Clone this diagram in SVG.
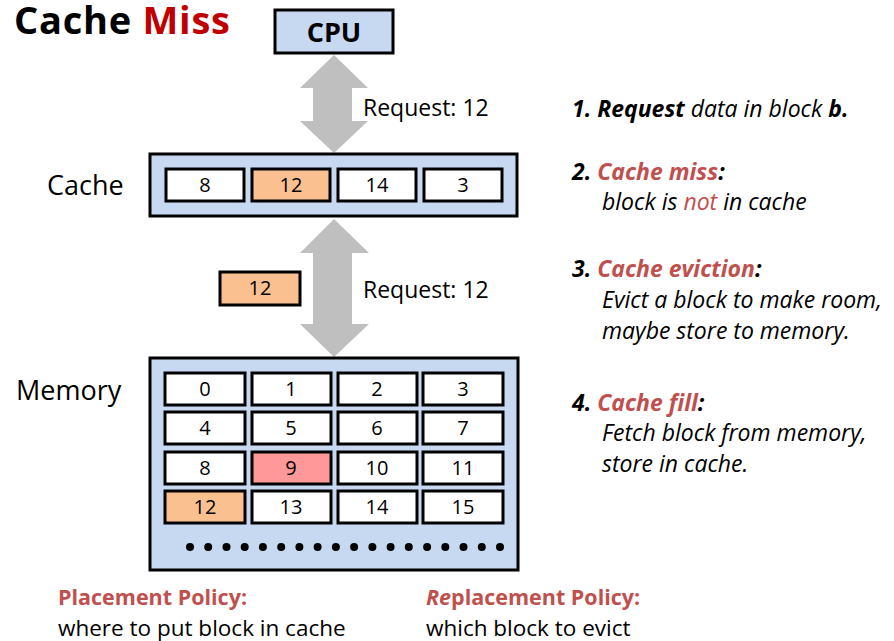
<svg xmlns="http://www.w3.org/2000/svg" width="894" height="641" viewBox="0 0 894 641">
  <style>
    text { font-family: "Open Sans", Lato, "Liberation Sans", sans-serif; fill: #000; }
    .panel { fill: #c6d9f1; stroke: #000; stroke-width: 3; }
    .cell { fill: #fff; stroke: #000; stroke-width: 3; }
    .hit { fill: #fac090; }
    .victim { fill: #ff9999; }
    .num { font-size: 20px; text-anchor: middle; }
    .lbl { font-size: 27px; }
    .step { font-size: 23px; font-style: italic; }
    .red { fill: #c0504d; }
    .bold { font-weight: bold; }
    .arrow { fill: #bfbfbf; }
    .req { font-size: 23px; }
    .pol-h { font-size: 21.5px; font-weight: bold; fill: #c0504d; }
    .pol { font-size: 22.5px; }
  </style>

  <!-- Title -->
  <text x="14" y="34" font-size="38" font-weight="bold" textLength="216" lengthAdjust="spacing">Cache <tspan fill="#c00000">Miss</tspan></text>

  <!-- Connectors: double-headed block arrows -->
  <g id="connectors">
    <polygon class="arrow" points="334,55 368,88 352,88 352,121 368,121 334,153 300,121 313,121 313,88 300,88"/>
    <polygon class="arrow" points="334,219 369,253 352,253 352,324 369,324 334,357 300,324 313,324 313,253 300,253"/>
    <text class="req" x="363" y="116">Request: 12</text>
    <text class="req" x="363" y="298">Request: 12</text>
  </g>

  <!-- CPU -->
  <g id="cpu">
    <rect class="panel" x="275" y="10" width="118" height="43"/>
    <text x="334" y="42" font-size="27" font-weight="bold" text-anchor="middle">CPU</text>
  </g>

  <!-- Cache -->
  <g id="cache">
    <text class="lbl" x="47" y="195">Cache</text>
    <rect class="panel" x="150" y="154" width="367" height="62"/>
    <rect class="cell" x="166" y="169" width="78" height="32"/>
    <rect class="cell hit" x="252" y="169" width="78" height="32"/>
    <rect class="cell" x="338" y="169" width="78" height="32"/>
    <rect class="cell" x="424" y="169" width="78" height="32"/>
    <text class="num" x="205" y="192">8</text>
    <text class="num" x="291" y="192">12</text>
    <text class="num" x="377" y="192">14</text>
    <text class="num" x="463" y="192">3</text>
  </g>

  <!-- Block in transit -->
  <g id="fetched-block">
    <rect class="cell hit" x="220" y="272" width="80" height="33"/>
    <text class="num" x="260" y="295">12</text>
  </g>

  <!-- Memory -->
  <g id="memory">
    <text class="lbl" x="16" y="400">Memory</text>
    <rect class="panel" x="150" y="358" width="368" height="212"/>
    <g>
      <rect class="cell" x="165" y="373" width="80" height="32"/>
      <rect class="cell" x="252" y="373" width="79" height="32"/>
      <rect class="cell" x="338" y="373" width="79" height="32"/>
      <rect class="cell" x="423" y="373" width="80" height="32"/>
      <rect class="cell" x="165" y="412" width="80" height="32"/>
      <rect class="cell" x="252" y="412" width="79" height="32"/>
      <rect class="cell" x="338" y="412" width="79" height="32"/>
      <rect class="cell" x="423" y="412" width="80" height="32"/>
      <rect class="cell" x="165" y="452" width="80" height="32"/>
      <rect class="cell victim" x="252" y="452" width="79" height="32"/>
      <rect class="cell" x="338" y="452" width="79" height="32"/>
      <rect class="cell" x="423" y="452" width="80" height="32"/>
      <rect class="cell hit" x="165" y="491" width="80" height="32"/>
      <rect class="cell" x="252" y="491" width="79" height="32"/>
      <rect class="cell" x="338" y="491" width="79" height="32"/>
      <rect class="cell" x="423" y="491" width="80" height="32"/>
    </g>
    <g>
      <text class="num" x="205" y="396">0</text>
      <text class="num" x="291" y="396">1</text>
      <text class="num" x="377" y="396">2</text>
      <text class="num" x="463" y="396">3</text>
      <text class="num" x="205" y="435">4</text>
      <text class="num" x="291" y="435">5</text>
      <text class="num" x="377" y="435">6</text>
      <text class="num" x="463" y="435">7</text>
      <text class="num" x="205" y="475">8</text>
      <text class="num" x="291" y="475">9</text>
      <text class="num" x="377" y="475">10</text>
      <text class="num" x="463" y="475">11</text>
      <text class="num" x="205" y="514">12</text>
      <text class="num" x="291" y="514">13</text>
      <text class="num" x="377" y="514">14</text>
      <text class="num" x="463" y="514">15</text>
    </g>
    <g fill="#000">
      <circle cx="190" cy="547" r="4"/><circle cx="208.2" cy="547" r="4"/>
      <circle cx="226.5" cy="547" r="4"/><circle cx="244.7" cy="547" r="4"/>
      <circle cx="262.9" cy="547" r="4"/><circle cx="281.2" cy="547" r="4"/>
      <circle cx="299.4" cy="547" r="4"/><circle cx="317.6" cy="547" r="4"/>
      <circle cx="335.9" cy="547" r="4"/><circle cx="354.1" cy="547" r="4"/>
      <circle cx="372.4" cy="547" r="4"/><circle cx="390.6" cy="547" r="4"/>
      <circle cx="408.8" cy="547" r="4"/><circle cx="427.1" cy="547" r="4"/>
      <circle cx="445.3" cy="547" r="4"/><circle cx="463.5" cy="547" r="4"/>
      <circle cx="481.8" cy="547" r="4"/><circle cx="500" cy="547" r="4"/>
    </g>
  </g>

  <!-- Steps -->
  <g id="steps">
    <text class="step" x="572" y="117"><tspan class="bold">1. Request</tspan> data in block <tspan class="bold">b.</tspan></text>
    <text class="step" x="572" y="180"><tspan class="bold">2. </tspan><tspan class="bold red">Cache miss</tspan><tspan class="bold">:</tspan></text>
    <text class="step" x="602" y="210">block is <tspan class="red">not</tspan> in cache</text>
    <text class="step" x="572" y="277"><tspan class="bold">3. </tspan><tspan class="bold red">Cache eviction</tspan><tspan class="bold">:</tspan></text>
    <text class="step" x="602" y="308">Evict a block to make room,</text>
    <text class="step" x="602" y="339">maybe store to memory.</text>
    <text class="step" x="572" y="411"><tspan class="bold">4. </tspan><tspan class="bold red">Cache fill</tspan><tspan class="bold">:</tspan></text>
    <text class="step" x="602" y="441">Fetch block from memory,</text>
    <text class="step" x="602" y="472">store in cache.</text>
  </g>

  <!-- Policies -->
  <g id="policies">
    <text class="pol-h" x="58" y="605">Placement Policy:</text>
    <text class="pol" x="58" y="636">where to put block in cache</text>
    <text class="pol-h" x="426" y="605"><tspan font-style="italic">Re</tspan>placement Policy:</text>
    <text class="pol" x="426" y="636">which block to evict</text>
  </g>
</svg>
